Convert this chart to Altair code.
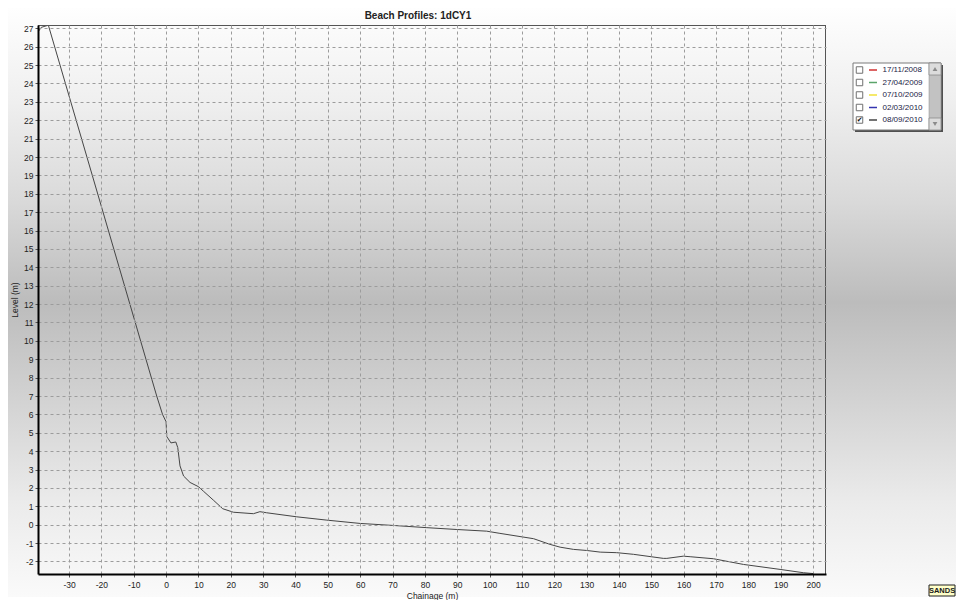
import altair as alt
import pandas as pd

# ---- data ----
chainage = [-39.6, -38.6, -36.4, -20.4, -4.4, -2.9, -1.1, 0.0, 0.2, 1.5,
            3.0, 3.6, 4.3, 5.4, 7.4, 10.0, 11.5, 14.6, 17.5, 20.8,
            27.0, 29.0, 31.1, 40.4, 49.7, 60.0, 70.3, 80.6, 89.9, 99.1,
            103.2, 113.6, 118.7, 121.8, 125.9, 130.0, 134.2, 139.3, 144.5, 153.7,
            154.8, 159.9, 162.0, 169.2, 178.5, 189.8, 197.0, 200.2]
level = [26.80, 27.05, 27.17, 17.55, 7.9, 7.0, 6.0, 5.6, 4.8, 4.45,
         4.5, 4.2, 3.2, 2.65, 2.3, 2.07, 1.83, 1.34, 0.87, 0.68,
         0.60, 0.71, 0.65, 0.43, 0.25, 0.07, -0.04, -0.16, -0.26, -0.35,
         -0.47, -0.76, -1.07, -1.22, -1.34, -1.40, -1.49, -1.52, -1.61, -1.83,
         -1.83, -1.71, -1.74, -1.85, -2.16, -2.43, -2.61, -2.66]

survey_dates = ["17/11/2008", "27/04/2009", "07/10/2009", "02/03/2010", "08/09/2010"]
survey_colors = ["#d03030", "#5aa46a", "#f2e23a", "#3535b0", "#454545"]
survey_shown = [False, False, False, False, True]
plotted_survey = "08/09/2010"

x_ticks = list(range(-30, 201, 10))
y_ticks = list(range(-2, 28, 1))

FONT = "Liberation Sans"
W, H = 788, 549

profile = pd.DataFrame({"chainage": chainage, "level": level,
                        "survey": [plotted_survey] * len(chainage)})
legend_df = pd.DataFrame({"survey": survey_dates, "shown": survey_shown})
one = pd.DataFrame({"k": [0]})

color_scale = alt.Scale(domain=survey_dates, range=survey_colors)
row_scale = alt.Scale(type="point", domain=survey_dates, range=[45, 95], padding=0)

# ---- decorations ----
bg = alt.Chart(one).mark_rect(
    fill=alt.Gradient(gradient="linear", x1=0, x2=0, y1=0, y2=1, stops=[
        alt.GradientStop(color="#fefefe", offset=0),
        alt.GradientStop(color="#efefef", offset=0.16),
        alt.GradientStop(color="#d9d9d9", offset=0.33),
        alt.GradientStop(color="#bcbcbc", offset=0.5),
        alt.GradientStop(color="#d3d3d3", offset=0.67),
        alt.GradientStop(color="#ebebeb", offset=0.84),
        alt.GradientStop(color="#fafafa", offset=1),
    ])
).encode(x=alt.value(-30), x2=alt.value(918), y=alt.value(-17), y2=alt.value(572))

frame_shadow = alt.Chart(one).mark_rect(fill="#505050").encode(
    x=alt.value(817), x2=alt.value(905), y=alt.value(40), y2=alt.value(107))
frame = alt.Chart(one).mark_rect(fill="white", stroke="#7a7a7a", strokeWidth=1).encode(
    x=alt.value(815), x2=alt.value(903), y=alt.value(38), y2=alt.value(105))
track = alt.Chart(one).mark_rect(fill="#c2c2c2", stroke="#8a8a8a", strokeWidth=0.5).encode(
    x=alt.value(891), x2=alt.value(903), y=alt.value(38), y2=alt.value(105))
btn_up = alt.Chart(one).mark_rect(fill="#dcdcdc", stroke="#8a8a8a", strokeWidth=0.8).encode(
    x=alt.value(891), x2=alt.value(903), y=alt.value(38), y2=alt.value(50))
btn_dn = alt.Chart(one).mark_rect(fill="#dcdcdc", stroke="#8a8a8a", strokeWidth=0.8).encode(
    x=alt.value(891), x2=alt.value(903), y=alt.value(93), y2=alt.value(105))
arr_up = alt.Chart(one).mark_point(shape="triangle-up", filled=True, color="#8a8a8a",
                                   size=22, opacity=1).encode(x=alt.value(897), y=alt.value(44))
arr_dn = alt.Chart(one).mark_point(shape="triangle-down", filled=True, color="#8a8a8a",
                                   size=22, opacity=1).encode(x=alt.value(897), y=alt.value(99))

logo_box = alt.Chart(one).mark_rect(fill="#ffffc8", stroke="#222", strokeWidth=1).encode(
    x=alt.value(891), x2=alt.value(917), y=alt.value(560), y2=alt.value(571))
logo_txt = alt.Chart(one).mark_text(text="SANDS", font=FONT, fontSize=7.5, fontWeight="bold",
                                    color="#1a1a1a", align="center", baseline="middle").encode(
    x=alt.value(904), y=alt.value(565.8))

border_top = alt.Chart(one).mark_rule(color="#555555", strokeWidth=1).encode(
    x=alt.value(0), x2=alt.value(W), y=alt.value(0.5))
border_right = alt.Chart(one).mark_rule(color="#555555", strokeWidth=1).encode(
    x=alt.value(W - 0.5), y=alt.value(0), y2=alt.value(H))

# ---- legend rows (drawn from the legend table through a row scale) ----
boxes = alt.Chart(legend_df).mark_square(filled=False, color="#707070", strokeWidth=1,
                                         size=42, opacity=1).encode(
    x=alt.value(821.5), y=alt.Y("survey:N", scale=row_scale, axis=None))
checks = alt.Chart(legend_df).transform_filter("datum.shown").mark_text(
    text="✔", font="DejaVu Sans", fontSize=7, color="#111111", align="center",
    baseline="middle").encode(
    x=alt.value(821.8), y=alt.Y("survey:N", scale=row_scale, axis=None))
swatches = alt.Chart(legend_df).mark_rule(strokeWidth=1.5).encode(
    x=alt.value(831), x2=alt.value(839),
    y=alt.Y("survey:N", scale=row_scale, axis=None),
    color=alt.Color("survey:N", scale=color_scale, legend=None))
labels = alt.Chart(legend_df).mark_text(font=FONT, fontSize=8, color="#222244",
                                        align="left", baseline="middle").encode(
    x=alt.value(844.5), y=alt.Y("survey:N", scale=row_scale, axis=None),
    text="survey:N")

# ---- profile ----
x_axis = alt.Axis(values=x_ticks, title="Chainage (m)", grid=True, gridColor="#9c9c9c",
                  gridDash=[3, 3], gridWidth=1, domainColor="#000000", domainWidth=2,
                  tickColor="#555555", tickSize=3, labelFont=FONT, labelFontSize=8.5,
                  labelColor="#222222", labelPadding=3, labelFlush=False, labelOverlap=False,
                  labelExpr="'' + datum.value",
                  titleFont=FONT, titleFontSize=8.5, titleFontWeight="normal",
                  titleColor="#222222", titlePadding=3, zindex=1)
y_axis = alt.Axis(values=y_ticks, title="Level (m)", grid=True, gridColor="#9c9c9c",
                  gridDash=[3, 3], gridWidth=1, domainColor="#000000", domainWidth=2,
                  tickColor="#555555", tickSize=3, labelFont=FONT, labelFontSize=8.5,
                  labelColor="#222222", labelPadding=2, labelFlush=False, labelOverlap=False,
                  labelExpr="'' + datum.value",
                  titleFont=FONT, titleFontSize=8.5, titleFontWeight="normal",
                  titleColor="#222222", titlePadding=4, zindex=1)

line = alt.Chart(profile).mark_line(strokeWidth=1, clip=True).encode(
    x=alt.X("chainage:Q", scale=alt.Scale(domain=[-39.6, 204], nice=False, zero=False),
            axis=x_axis),
    y=alt.Y("level:Q", scale=alt.Scale(domain=[-2.68, 27.18], nice=False, zero=False),
            axis=y_axis),
    color=alt.Color("survey:N", scale=color_scale, legend=None),
)

chart = alt.layer(
    bg, frame_shadow, frame, track, btn_up, btn_dn, arr_up, arr_dn, logo_box, logo_txt,
    line, border_top, border_right, boxes, checks, swatches, labels
).resolve_scale(y="independent").properties(
    width=W, height=H, padding=0,
    title=alt.Title("Beach Profiles: 1dCY1", font=FONT, fontSize=10, fontWeight="bold",
                    color="#222222", dx=-14, dy=17, offset=4)
).configure(font=FONT).configure_view(strokeWidth=0)

chart.save("out.html", embed_options={"renderer": "svg", "actions": False})
